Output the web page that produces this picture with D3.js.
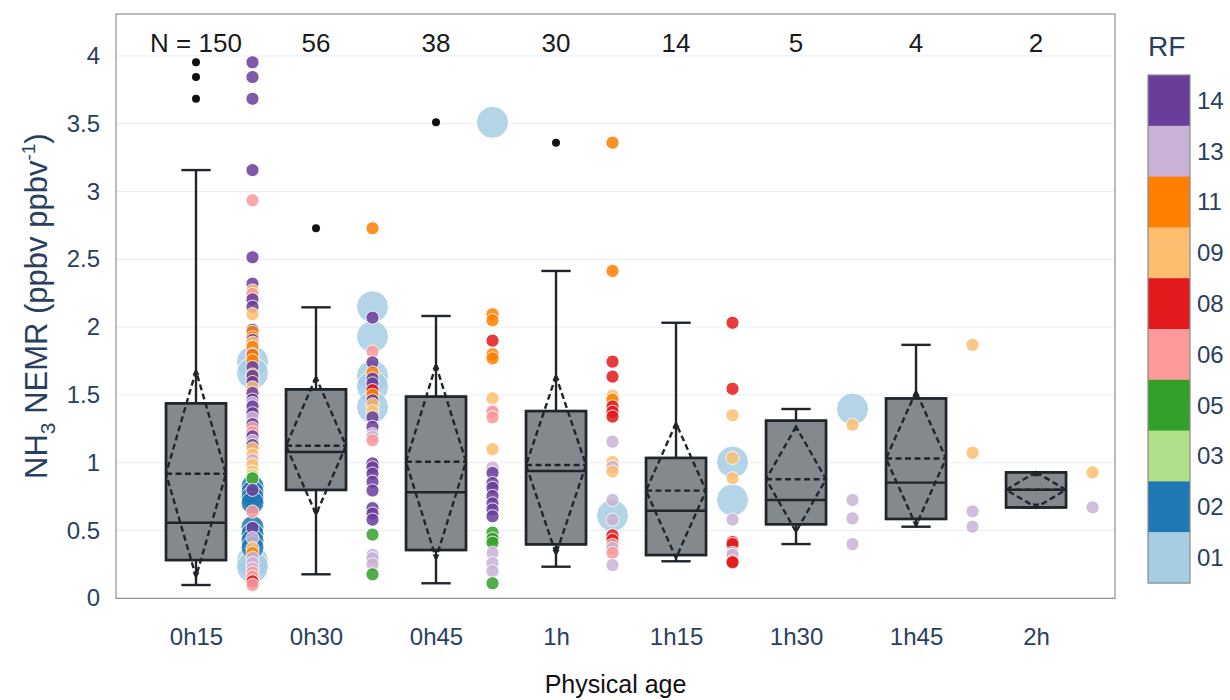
<!DOCTYPE html>
<html>
<head>
<meta charset="utf-8">
<script src="https://cdn.jsdelivr.net/npm/d3@7"></script>
<style>
  body { margin: 0; background: #fff; }
  text { font-family: "Liberation Sans", Arial, Helvetica, sans-serif; }
</style>
</head>
<body>
<svg id="chart" width="1230" height="700"></svg>
<script>
// ---- data -------------------------------------------------------------
const categories = ["0h15", "0h30", "0h45", "1h", "1h15", "1h30", "1h45", "2h"];
const counts     = [150, 56, 38, 30, 14, 5, 4, 2];

// box summary per physical age
const q1          = [0.282, 0.799, 0.356, 0.398, 0.319, 0.546, 0.585, 0.670];
const median      = [0.557, 1.079, 0.782, 0.939, 0.646, 0.725, 0.853, 0.800];
const q3          = [1.438, 1.541, 1.487, 1.381, 1.035, 1.310, 1.474, 0.929];
const whiskerLow  = [0.098, 0.177, 0.111, 0.233, 0.273, 0.400, 0.528, 0.670];
const whiskerHigh = [3.158, 2.146, 2.082, 2.414, 2.032, 1.396, 1.869, 0.929];
const mean        = [0.919, 1.125, 1.007, 0.983, 0.794, 0.878, 1.031, 0.800];
const sd          = [0.759, 0.505, 0.713, 0.656, 0.497, 0.387, 0.494, 0.130];
const outliers    = [[3.953, 3.844, 3.684], [2.729], [3.51], [3.36], [], [], [], []];

// individual samples per physical age: [NEMR, research flight]
const pts0h15 = [
  [3.953,"14"],[3.844,"14"],[3.684,"14"],[3.158,"14"],[2.935,"06"],[2.515,"14"],
  [2.32,"14"],[2.27,"09"],[2.245,"06"],[2.205,"14"],[2.15,"14"],[2.095,"09"],
  [1.98,"14"],[1.965,"11"],[1.925,"11"],[1.905,"14"],[1.885,"09"],[1.855,"11"],
  [1.80,"14"],[1.795,"11"],[1.755,"11"],[1.745,"01"],[1.705,"14"],[1.66,"01"],
  [1.65,"11"],[1.64,"14"],[1.595,"14"],[1.555,"09"],[1.515,"14"],[1.465,"14"],
  [1.44,"13"],[1.415,"14"],[1.365,"14"],[1.33,"13"],[1.285,"14"],[1.255,"06"],
  [1.225,"06"],[1.195,"14"],[1.16,"13"],[1.13,"14"],[1.105,"09"],[1.06,"09"],
  [1.02,"13"],[0.985,"09"],[0.935,"09"],[0.905,"03"],[0.885,"05"],[0.825,"02"],
  [0.80,"14"],[0.785,"02"],[0.745,"02"],[0.705,"02"],[0.64,"06"],[0.525,"02"],
  [0.52,"14"],[0.475,"02"],[0.445,"13"],[0.425,"02"],[0.375,"02"],[0.37,"09"],
  [0.335,"11"],[0.30,"13"],[0.275,"01"],[0.26,"13"],[0.23,"01"],[0.22,"13"],
  [0.19,"06"],[0.16,"06"],[0.125,"08"],[0.098,"06"]
];
const pts0h30 = [
  [2.729,"11"],[2.15,"01"],[2.07,"14"],[1.93,"01"],[1.82,"06"],[1.74,"14"],
  [1.665,"11"],[1.64,"01"],[1.62,"14"],[1.585,"14"],[1.56,"01"],[1.535,"08"],
  [1.50,"11"],[1.46,"14"],[1.43,"09"],[1.41,"01"],[1.38,"09"],[1.335,"14"],
  [1.265,"14"],[1.21,"13"],[1.19,"13"],[1.165,"06"],[0.995,"14"],[0.965,"14"],
  [0.92,"14"],[0.86,"14"],[0.795,"14"],[0.665,"14"],[0.625,"14"],[0.58,"14"],
  [0.47,"05"],[0.32,"13"],[0.295,"13"],[0.25,"13"],[0.177,"05"]
];
const pts0h45 = [
  [3.51,"01"],[2.095,"11"],[2.05,"11"],[1.90,"08"],[1.80,"11"],[1.77,"11"],
  [1.475,"09"],[1.385,"13"],[1.375,"06"],[1.335,"06"],[1.10,"09"],[0.965,"13"],
  [0.925,"14"],[0.85,"14"],[0.815,"14"],[0.755,"14"],[0.70,"14"],[0.655,"14"],
  [0.605,"14"],[0.485,"05"],[0.44,"05"],[0.41,"05"],[0.335,"13"],[0.26,"13"],
  [0.20,"13"],[0.111,"05"]
];
const pts1h = [
  [3.36,"11"],[2.414,"11"],[1.745,"08"],[1.635,"08"],[1.495,"09"],[1.465,"11"],
  [1.415,"08"],[1.375,"08"],[1.34,"08"],[1.155,"13"],[1.005,"09"],[0.97,"13"],
  [0.935,"09"],[0.725,"13"],[0.61,"01"],[0.58,"13"],[0.465,"08"],[0.43,"08"],
  [0.395,"06"],[0.37,"13"],[0.335,"06"],[0.245,"13"]
];
const pts1h15 = [
  [2.032,"08"],[1.545,"08"],[1.35,"09"],[1.035,"09"],[1.005,"01"],[0.885,"09"],
  [0.725,"01"],[0.58,"13"],[0.415,"08"],[0.40,"08"],[0.335,"13"],[0.32,"13"],
  [0.273,"08"],[0.265,"08"]
];
const pts1h30 = [[1.396,"01"],[1.28,"09"],[0.725,"13"],[0.59,"13"],[0.40,"13"]];
const pts1h45 = [[1.869,"09"],[1.073,"09"],[0.641,"13"],[0.528,"13"]];
const pts2h   = [[0.929,"09"],[0.670,"13"]];
const samples = [pts0h15, pts0h30, pts0h45, pts1h, pts1h15, pts1h30, pts1h45, pts2h];

// research flight legend (top to bottom)
const rfLabels = ["14", "13", "11", "09", "08", "06", "05", "03", "02", "01"];
const rfColors = ["#6a3d9a", "#cab2d6", "#ff7f00", "#fdbf6f", "#e31a1c",
                  "#fb9a99", "#33a02c", "#b2df8a", "#1f78b4", "#a6cee3"];
const yTicks = [0, 0.5, 1, 1.5, 2, 2.5, 3, 3.5, 4];

// ---- layout -----------------------------------------------------------
const svg = d3.select("#chart");
const plot = { left: 116, right: 1115, top: 14, bottom: 598.3 };
const x = d3.scaleLinear().domain([-0.6667, 7.658]).range([plot.left, plot.right]);
const y = d3.scaleLinear().domain([0, 4.309]).range([plot.bottom, plot.top]);
const color = d3.scaleOrdinal().domain(rfLabels).range(rfColors);
const radius = rf => rf === "01" ? 16 : rf === "02" ? 11.5 : 6.6;

const navy = "#2a3f5f";
const ink = "#1f252b";
const boxHalf = x(0.25) - x(0);
const capHalf = x(0.122) - x(0);
const dotOffset = 0.4708;

// gridlines
svg.append("g").selectAll("line").data(yTicks).join("line")
  .attr("x1", plot.left).attr("x2", plot.right)
  .attr("y1", d => y(d)).attr("y2", d => y(d))
  .attr("stroke", "#e9eef5").attr("stroke-width", 1);

// axes
const yAxis = svg.append("g").attr("transform", `translate(${plot.left},0)`)
  .call(d3.axisLeft(y).tickValues(yTicks).tickFormat(d3.format("~g")).tickSize(0).tickPadding(16));
yAxis.select(".domain").remove();
yAxis.selectAll("text").attr("font-size", 24).attr("fill", navy)
  .style("font-family", '"Liberation Sans", Arial, sans-serif');

const xAxis = svg.append("g").attr("transform", `translate(0,${plot.bottom})`)
  .call(d3.axisBottom(x).tickValues(d3.range(categories.length))
    .tickFormat(i => categories[i]).tickSize(0).tickPadding(30));
xAxis.select(".domain").remove();
xAxis.selectAll("text").attr("font-size", 24).attr("fill", navy)
  .style("font-family", '"Liberation Sans", Arial, sans-serif');

// boxes
const boxes = svg.append("g");
categories.forEach((c, i) => {
  const cx = x(i);
  const g = boxes.append("g");
  // whiskers
  g.append("line").attr("x1", cx).attr("x2", cx)
    .attr("y1", y(q3[i])).attr("y2", y(whiskerHigh[i]));
  g.append("line").attr("x1", cx).attr("x2", cx)
    .attr("y1", y(q1[i])).attr("y2", y(whiskerLow[i]));
  g.append("line").attr("x1", cx - capHalf).attr("x2", cx + capHalf)
    .attr("y1", y(whiskerHigh[i])).attr("y2", y(whiskerHigh[i]));
  g.append("line").attr("x1", cx - capHalf).attr("x2", cx + capHalf)
    .attr("y1", y(whiskerLow[i])).attr("y2", y(whiskerLow[i]));
  // box
  g.append("rect").attr("x", cx - boxHalf).attr("width", 2 * boxHalf)
    .attr("y", y(q3[i])).attr("height", y(q1[i]) - y(q3[i]))
    .attr("fill", "#84898e");
  // median
  g.append("line").attr("x1", cx - boxHalf).attr("x2", cx + boxHalf)
    .attr("y1", y(median[i])).attr("y2", y(median[i]));
  // mean and standard deviation diamond
  g.append("line").attr("x1", cx - boxHalf).attr("x2", cx + boxHalf)
    .attr("y1", y(mean[i])).attr("y2", y(mean[i]))
    .attr("stroke-dasharray", "6,3.5");
  const p = d3.path();
  p.moveTo(cx, y(mean[i] + sd[i]));
  p.lineTo(cx - boxHalf, y(mean[i]));
  p.lineTo(cx, y(mean[i] - sd[i]));
  p.lineTo(cx + boxHalf, y(mean[i]));
  p.closePath();
  g.append("path").attr("d", p.toString()).attr("fill", "none")
    .attr("stroke-dasharray", "6,3.5");
  g.append("rect").attr("x", cx - boxHalf).attr("width", 2 * boxHalf)
    .attr("y", y(q3[i])).attr("height", y(q1[i]) - y(q3[i]))
    .attr("fill", "none");
  g.selectAll("line, path, rect").attr("stroke", ink).attr("stroke-width", 2.4);
  // small tips at mean ± sd
  [[mean[i] + sd[i], -1], [mean[i] - sd[i], 1]].forEach(([v, dir]) => {
    const ty = y(v);
    g.append("path")
      .attr("d", `M${cx - 3.5},${ty - dir * 4}L${cx + 3.5},${ty - dir * 4}L${cx},${ty + dir * 2}Z`)
      .attr("fill", ink);
  });
  // outliers
  g.selectAll("circle").data(outliers[i]).join("circle")
    .attr("cx", cx).attr("cy", d => y(d)).attr("r", 4).attr("fill", "#111");
});

// samples coloured by research flight (large markers underneath)
const allPts = [];
samples.forEach((arr, i) => arr.forEach(([v, rf]) => allPts.push({ i, v, rf })));
allPts.sort((a, b) => radius(b.rf) - radius(a.rf));
svg.append("g").selectAll("circle").data(allPts).join("circle")
  .attr("cx", d => x(d.i + dotOffset)).attr("cy", d => y(d.v))
  .attr("r", d => radius(d.rf))
  .attr("fill", d => color(d.rf))
  .attr("stroke", "#fff").attr("stroke-width", 1)
  .attr("opacity", 0.85);

// frame
svg.append("rect").attr("x", plot.left).attr("y", plot.top)
  .attr("width", plot.right - plot.left).attr("height", plot.bottom - plot.top)
  .attr("fill", "none").attr("stroke", "#8f8f8f").attr("stroke-width", 1.2);

// sample counts
svg.append("g").selectAll("text").data(counts).join("text")
  .attr("x", (d, i) => x(i)).attr("y", 52)
  .attr("text-anchor", "middle").attr("font-size", 26).attr("fill", "#1a1a1a")
  .text((d, i) => i === 0 ? `N = ${d}` : d);

// axis titles
svg.append("text").attr("x", (plot.left + plot.right) / 2).attr("y", 693)
  .attr("text-anchor", "middle").attr("font-size", 25).attr("fill", "#111")
  .text("Physical age");

const yt = svg.append("text")
  .attr("transform", `translate(47,${(plot.top + plot.bottom) / 2}) rotate(-90)`)
  .attr("text-anchor", "middle").attr("font-size", 31).attr("fill", navy);
yt.append("tspan").text("NH");
yt.append("tspan").attr("font-size", 21).attr("dy", 8).text("3");
yt.append("tspan").attr("dy", -8).text(" NEMR (ppbv ppbv");
yt.append("tspan").attr("font-size", 19).attr("dy", -12).text("-1");
yt.append("tspan").attr("dy", 12).text(")");

// research flight colour bar
const bar = { x: 1148, w: 42, top: 75, bottom: 583 };
const seg = (bar.bottom - bar.top) / rfLabels.length;
const lg = svg.append("g");
lg.append("text").attr("x", bar.x).attr("y", 56).attr("font-size", 28)
  .attr("fill", navy).text("RF");
lg.selectAll("rect.seg").data(rfLabels).join("rect").attr("class", "seg")
  .attr("x", bar.x).attr("width", bar.w)
  .attr("y", (d, k) => bar.top + k * seg).attr("height", seg + 0.5)
  .attr("fill", d => color(d));
lg.append("rect").attr("x", bar.x).attr("y", bar.top).attr("width", bar.w)
  .attr("height", bar.bottom - bar.top).attr("fill", "none")
  .attr("stroke", "#8a8a8a").attr("stroke-width", 1.2);
lg.selectAll("text.lab").data(rfLabels).join("text").attr("class", "lab")
  .attr("x", bar.x + bar.w + 7).attr("y", (d, k) => bar.top + (k + 0.5) * seg)
  .attr("dy", "0.35em").attr("font-size", 24).attr("fill", navy)
  .text(d => d);
</script>
</body>
</html>
